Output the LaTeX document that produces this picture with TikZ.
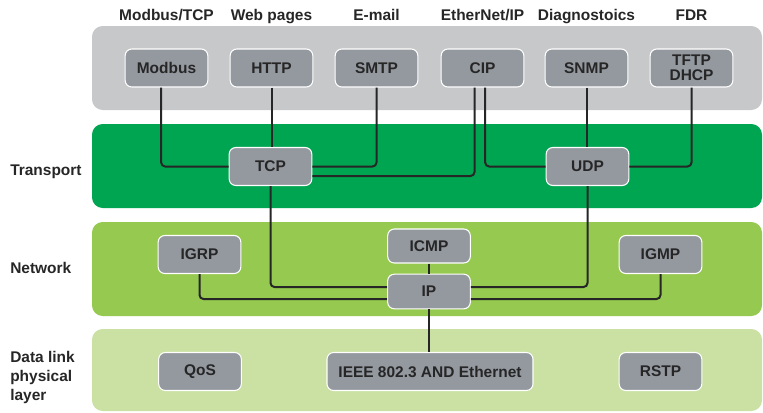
\documentclass[tikz,border=0pt]{standalone}
\usepackage{fontspec}
\setmainfont{Liberation Sans}
\usetikzlibrary{calc}

\definecolor{appgrey}{RGB}{198,200,202}
\definecolor{boxgrey}{RGB}{148,153,160}
\definecolor{transgreen}{RGB}{0,165,81}
\definecolor{netgreen}{RGB}{150,201,80}
\definecolor{linkgreen}{RGB}{202,225,163}
\definecolor{inkgrey}{RGB}{38,38,38}

\begin{document}
\begin{tikzpicture}[x=0.75pt,y=-0.75pt,
  proto/.style={draw=white,line width=0.8pt,fill=boxgrey,rounded corners=5pt,
    minimum width=62pt,minimum height=28.5pt,inner sep=1pt,align=center,
    font=\bfseries\fontsize{11.6}{12}\selectfont,text=inkgrey},
  layer/.style={rounded corners=8pt},
  link/.style={line width=1.5pt,draw=inkgrey,rounded corners=3pt},
  lbl/.style={font=\bfseries\fontsize{11.6}{14.25}\selectfont,text=inkgrey,align=left,inner sep=0pt}]
  \useasboundingbox (0,0) rectangle (763,412);
  \fill[appgrey,layer] (92,26) rectangle (762,110);
  \fill[transgreen,layer] (92,124) rectangle (762,208);
  \fill[netgreen,layer] (92,222) rectangle (762,316);
  \fill[linkgreen,layer] (92,329) rectangle (762,411);
  \foreach \n/\x/\t/\s in {modbus/166.5/Modbus/Modbus\slash TCP,http/271.5/HTTP/Web pages,
      smtp/376.5/SMTP/E-mail,cip/482.5/CIP/EtherNet\slash IP,snmp/586.5/SNMP/Diagnostoics,
      tftp/691.5/{TFTP\\[-1pt]DHCP}/FDR} {
    \node[proto] (\n) at (\x,68) {\t};
    \node[lbl,anchor=base] (\n-top) at (\x,20) {\s};
  }
  \node[proto] (tcp) at (270.5,166.5) {TCP};
  \node[proto] (udp) at (587.5,166.5) {UDP};
  \node[proto] (igrp) at (199.5,254.5) {IGRP};
  \node[proto,minimum height=25.5pt] (icmp) at (429,246) {ICMP};
  \node[proto,minimum height=26pt] (ip) at (429,291.5) {IP};
  \node[proto] (igmp) at (660.5,254.5) {IGMP};
  \node[proto] (qos) at (200,371.5) {QoS};
  \node[proto,minimum width=154.5pt] (ieee) at (430,371.5) {IEEE 802.3 AND Ethernet};
  \node[proto] (rstp) at (660.5,371.5) {RSTP};
  \node[lbl,anchor=base west] (transport) at (10,175) {Transport};
  \node[lbl,anchor=base west] (network) at (10,273) {Network};
  \node[lbl,anchor=west] (datalink) at (10,377.5) {Data link\\physical\\layer};
  \draw[link] ([xshift=-4pt]modbus.south) |- (tcp.west);
  \draw[link] (http.south) -- (http.south |- tcp.north);
  \draw[link] (smtp.south) |- (tcp.east);
  \draw[link] ([xshift=-6pt]cip.south) |- ($(tcp.east)+(0,9.5)$);
  \draw[link] ([xshift=2pt]cip.south) |- (udp.west);
  \draw[link] (snmp.south) -- (snmp.south |- udp.north);
  \draw[link] (tftp.south) |- (udp.east);
  \draw[link] (tcp.south) |- ($(ip.west)+(0,-4.5)$);
  \draw[link] (udp.south) |- ($(ip.east)+(0,-4.5)$);
  \draw[link] (igrp.south) |- ($(ip.west)+(0,7.5)$);
  \draw[link] (igmp.south) |- ($(ip.east)+(0,7.5)$);
  \draw[link] (icmp.south) -- (ip.north);
  \draw[link] (ip.south) -- (ip.south |- ieee.north);
\end{tikzpicture}
\end{document}
